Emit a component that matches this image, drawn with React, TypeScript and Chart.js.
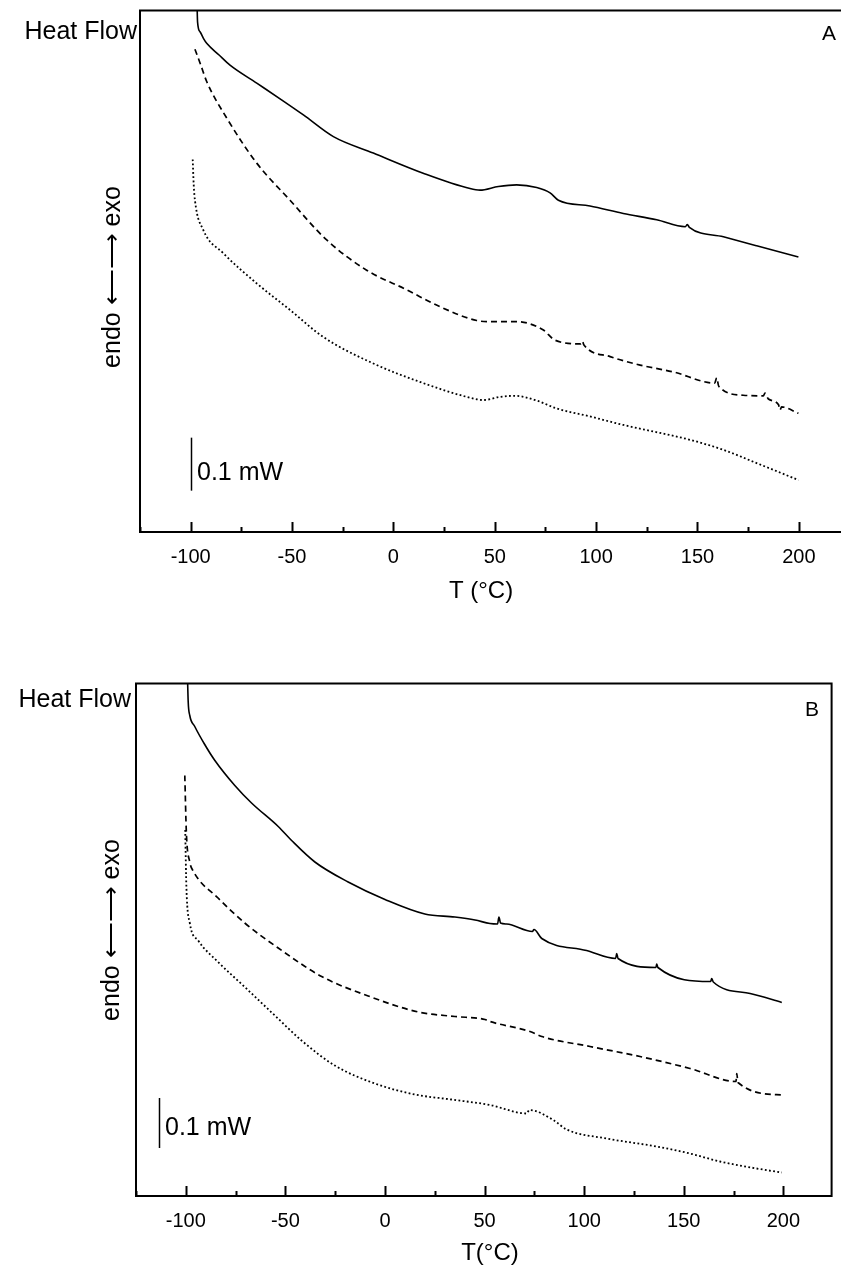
import React, { useEffect, useRef } from 'react';
import { Chart, registerables } from 'chart.js';

Chart.register(...registerables);

// ---------------- DATA (temperature in °C, heat flow in mW, offset traces) ----------------
const xTicksMajor = [-100, -50, 0, 50, 100, 150, 200];

// Panel A
const tA_solid = [-97.1, -96.6, -95.4, -93.5, -92.1, -86, -80.6, -67.4, -55, -44.4, -29.6, -9.9, 14.7, 37.8, 42.7, 51.8, 60.8, 70.7, 77.3, 81.4, 97, 113.4, 129.9, 144, 145, 146, 162.8, 179.2, 199.8];
const hA_solid = [1.05, 0.962, 0.944, 0.93, 0.922, 0.9, 0.881, 0.847, 0.815, 0.787, 0.746, 0.715, 0.677, 0.648, 0.645, 0.652, 0.655, 0.65, 0.64, 0.626, 0.615, 0.601, 0.589, 0.576, 0.58, 0.575, 0.557, 0.54, 0.519];

const tA_dash = [-97.9, -95, -92.1, -82.2, -67.4, -51, -32.9, -13.2, 6.6, 23, 41.1, 47.7, 60.8, 74, 79.7, 92.5, 93.2, 94, 106.9, 121.7, 138.1, 158.5, 159.5, 160.5, 172.6, 182.5, 183.3, 185, 190, 190.7, 191.5, 199.8];
const hA_dash = [0.911, 0.881, 0.85, 0.781, 0.696, 0.626, 0.551, 0.494, 0.457, 0.425, 0.399, 0.397, 0.397, 0.381, 0.362, 0.355, 0.36, 0.353, 0.331, 0.315, 0.302, 0.281, 0.291, 0.275, 0.258, 0.257, 0.262, 0.251, 0.24, 0.23, 0.236, 0.224];

const tA_dot = [-99, -98.5, -97.9, -93.8, -83.9, -67.4, -51, -34.6, -9.9, 14.7, 36.2, 44.4, 52.6, 60, 70.7, 80.6, 97, 113.4, 131.5, 146.3, 162.8, 179.2, 199.8];
const hA_dot = [0.703, 0.655, 0.626, 0.57, 0.526, 0.469, 0.419, 0.368, 0.318, 0.281, 0.255, 0.249, 0.255, 0.257, 0.248, 0.233, 0.218, 0.202, 0.187, 0.174, 0.155, 0.13, 0.098];

// Panel B
const tB_solid = [-99.4, -98.8, -98, -95.5, -90.5, -85.4, -75.4, -67, -53.6, -46.9, -35.2, -18.5, 0, 20, 35.1, 45.2, 52.7, 56.5, 57.2, 58, 61.1, 74, 74.8, 78.7, 101.2, 115.8, 116.3, 117, 136, 136.4, 137, 163.5, 164, 164.8, 183.3, 199.2];
const hB_solid = [1.08, 0.989, 0.961, 0.939, 0.903, 0.871, 0.821, 0.786, 0.739, 0.711, 0.668, 0.628, 0.593, 0.564, 0.558, 0.552, 0.545, 0.544, 0.558, 0.546, 0.544, 0.529, 0.533, 0.515, 0.491, 0.475, 0.485, 0.475, 0.457, 0.464, 0.457, 0.429, 0.435, 0.428, 0.405, 0.387];

const tB_dash = [-100.5, -99.7, -98, -96.3, -83.8, -70.4, -53.6, -31.8, -8.4, 16.7, 35.1, 50.2, 52.7, 72.8, 78.7, 102.9, 128, 153.1, 176.2, 176.6, 177.2, 199.2];
const hB_dash = [0.841, 0.725, 0.668, 0.65, 0.596, 0.546, 0.496, 0.439, 0.4, 0.368, 0.359, 0.353, 0.349, 0.329, 0.319, 0.299, 0.279, 0.255, 0.229, 0.245, 0.227, 0.202];

const tB_dot = [-100.3, -99.7, -98, -93.8, -83.8, -70.4, -55.3, -41.9, -25.2, -5.1, 15, 33.4, 52.7, 71.1, 72.5, 84.5, 91.2, 111.3, 136.4, 153.1, 168.2, 186.6, 199.2];
const hB_dot = [0.732, 0.618, 0.546, 0.511, 0.468, 0.418, 0.361, 0.311, 0.261, 0.225, 0.203, 0.193, 0.182, 0.165, 0.172, 0.152, 0.133, 0.115, 0.099, 0.085, 0.069, 0.055, 0.047];

// scale bars: [temperature, heat-flow start], length 0.1 mW
const barA = [-100, 0.078];
const barB = [-113.6, 0.096];
const barLength = 0.1;

const FONT = '"Liberation Sans", Arial, Helvetica, sans-serif';

type TextItem = { text: string; x: number; y: number; size: number; align?: CanvasTextAlign; baseline?: CanvasTextBaseline; rotate?: boolean };

const framePlugin = {
  id: 'frame',
  afterDatasetsDraw(chart: any, _args: any, opts: any) {
    const { ctx, chartArea: a, scales } = chart;
    const x = scales.x;
    const y = scales.y;
    ctx.save();
    ctx.strokeStyle = '#000';
    ctx.lineWidth = 2;
    ctx.strokeRect(a.left, a.top, a.right - a.left, a.bottom - a.top);
    // inward tick marks
    for (const t of x.ticks) {
      const v = Math.round(t.value);
      const px = Math.round(x.getPixelForValue(t.value)) + 0.5;
      const len = xTicksMajor.includes(v) ? 10 : 5;
      ctx.beginPath();
      ctx.moveTo(px, a.bottom);
      ctx.lineTo(px, a.bottom - len);
      ctx.stroke();
    }
    // scale bar
    const bar = opts.bar;
    const bx = Math.round(x.getPixelForValue(bar[0])) + 0.5;
    ctx.lineWidth = 1.5;
    ctx.beginPath();
    ctx.moveTo(bx, y.getPixelForValue(bar[1]));
    ctx.lineTo(bx, y.getPixelForValue(bar[1] + barLength));
    ctx.stroke();
    // texts
    ctx.fillStyle = '#000';
    for (const t of opts.texts as TextItem[]) {
      ctx.save();
      ctx.font = `${t.size}px ${FONT}`;
      ctx.textAlign = t.align || 'center';
      ctx.textBaseline = t.baseline || 'alphabetic';
      ctx.translate(t.x, t.y);
      if (t.rotate) ctx.rotate(-Math.PI / 2);
      ctx.fillText(t.text, 0, 0);
      ctx.restore();
    }
    ctx.restore();
  },
};

const pts = (t: number[], h: number[]) => t.map((v, i) => ({ x: v, y: h[i] }));

function makeDatasets(s: number[][]) {
  const base = { pointRadius: 0, borderColor: '#000', cubicInterpolationMode: 'monotone' as const, fill: false };
  return [
    { ...base, data: pts(s[0], s[1]), borderWidth: 1.6 },
    { ...base, data: pts(s[2], s[3]), borderWidth: 1.7, borderDash: [6, 4] },
    { ...base, data: pts(s[4], s[5]), borderWidth: 1.8, borderDash: [1.8, 2.4] },
  ];
}

type PanelProps = {
  top: number; width: number; height: number;
  xMin: number; xMax: number; yMax: number;
  axisLeft: number; padTop: number; padRight: number; axisHeight: number;
  series: number[][]; bar: number[]; texts: TextItem[];
};

function Panel(p: PanelProps) {
  const ref = useRef<HTMLCanvasElement | null>(null);
  useEffect(() => {
    if (!ref.current) return;
    const chart = new Chart(ref.current, {
      type: 'line',
      data: { datasets: makeDatasets(p.series) as any },
      plugins: [framePlugin],
      options: {
        animation: false,
        responsive: false,
        maintainAspectRatio: false,
        layout: { padding: { top: p.padTop, right: p.padRight, left: 0, bottom: 0 } },
        plugins: {
          legend: { display: false },
          tooltip: { enabled: false },
          frame: { bar: p.bar, texts: p.texts },
        } as any,
        scales: {
          x: {
            type: 'linear',
            min: p.xMin,
            max: p.xMax,
            grid: { display: false, drawTicks: false },
            border: { display: false },
            ticks: {
              stepSize: 25,
              autoSkip: false,
              includeBounds: false,
              maxRotation: 0,
              color: '#000',
              padding: 13,
              font: { family: FONT, size: 20 },
              callback: (v: any) => (xTicksMajor.includes(Math.round(Number(v))) ? String(Math.round(Number(v))) : ''),
            },
            afterFit: (s: any) => { s.height = p.axisHeight; },
          },
          y: {
            type: 'linear',
            min: 0,
            max: p.yMax,
            grid: { display: false, drawTicks: false },
            border: { display: false },
            ticks: { display: false },
            afterFit: (s: any) => { s.width = p.axisLeft; },
          },
        },
      } as any,
    });
    return () => chart.destroy();
  }, []);
  return (
    <canvas
      ref={ref}
      width={p.width}
      height={p.height}
      style={{ position: 'absolute', left: 0, top: p.top, width: p.width, height: p.height }}
    />
  );
}

export default function App() {
  const textsA: TextItem[] = [
    { text: 'Heat Flow', x: 137, y: 39, size: 25, align: 'right' },
    { text: 'endo \u27F5\u27F6 exo', x: 113, y: 277, size: 25, rotate: true, baseline: 'middle' },
    { text: '0.1 mW', x: 197, y: 480, size: 25, align: 'left' },
    { text: 'A', x: 829, y: 40, size: 21 },
    { text: 'T (\u00B0C)', x: 481, y: 598, size: 24 },
  ];
  const textsB: TextItem[] = [
    { text: 'Heat Flow', x: 131, y: 67, size: 25, align: 'right' },
    { text: 'endo \u27F5\u27F6 exo', x: 112, y: 290, size: 25, rotate: true, baseline: 'middle' },
    { text: '0.1 mW', x: 165, y: 495, size: 25, align: 'left' },
    { text: 'B', x: 812, y: 76, size: 21 },
    { text: 'T(\u00B0C)', x: 490, y: 620, size: 24 },
  ];
  return (
    <div style={{ position: 'fixed', left: 0, top: 0, width: 841, height: 1270, overflow: 'hidden', background: '#fff' }}>
      <Panel
        top={0} width={880} height={640}
        xMin={-125} xMax={225} yMax={0.984}
        axisLeft={140} padTop={10.5} padRight={30.5} axisHeight={108}
        series={[tA_solid, hA_solid, tA_dash, hA_dash, tA_dot, hA_dot]}
        bar={barA} texts={textsA}
      />
      <Panel
        top={640} width={841} height={630}
        xMin={-125} xMax={224.2} yMax={1.025}
        axisLeft={136} padTop={43.5} padRight={9.4} axisHeight={74}
        series={[tB_solid, hB_solid, tB_dash, hB_dash, tB_dot, hB_dot]}
        bar={barB} texts={textsB}
      />
    </div>
  );
}
